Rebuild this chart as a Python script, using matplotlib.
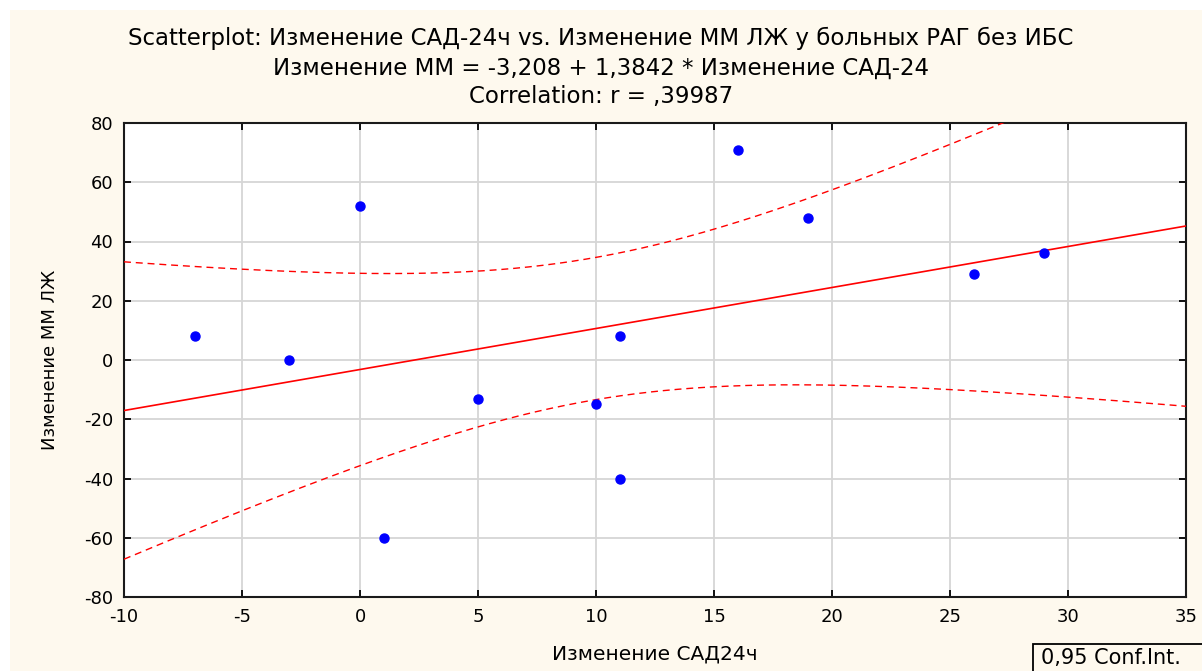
import numpy as np
import matplotlib
matplotlib.use("Agg")
import matplotlib.pyplot as plt
from matplotlib.patches import Rectangle

# change of 24h systolic BP vs change of LV mass, patients with hypertension without CHD
sad_change = [-7, -3, 0, 1, 5, 10, 11, 11, 16, 19, 26, 29]
mm_change = [8, 0, 52, -60, -13, -15, 8, -40, 71, 48, 29, 36]

intercept = -3.208
slope = 1.3842
r_value = ",39987"
t_crit = 2.228  # Student t, 0.975, df = n - 2 = 10

x_ticks = [-10, -5, 0, 5, 10, 15, 20, 25, 30, 35]
y_ticks = [-80, -60, -40, -20, 0, 20, 40, 60, 80]

cream = "#FEF9EE"
plt.rcParams["font.family"] = ["DejaVu Sans"]
plt.rcParams["axes.unicode_minus"] = False

W, H = 1202, 671
fig = plt.figure(figsize=(W / 100, H / 100), dpi=100, facecolor="white")
fig.patches.append(Rectangle((10 / W, 0), 1, 1 - 10 / H, transform=fig.transFigure,
                             facecolor=cream, edgecolor="none", zorder=-10))

ax = fig.add_axes([124 / W, 74 / H, 1062 / W, 474 / H])
ax.set_facecolor("white")

x = np.array(sad_change, dtype=float)
y = np.array(mm_change, dtype=float)
n = len(x)

# regression line and 95% confidence band of the mean
xs = np.linspace(-10, 35, 300)
ys = intercept + slope * xs
resid = y - (intercept + slope * x)
s = np.sqrt(np.sum(resid ** 2) / (n - 2))
sxx = np.sum((x - x.mean()) ** 2)
half = t_crit * s * np.sqrt(1.0 / n + (xs - x.mean()) ** 2 / sxx)

ax.plot(xs, ys, color="red", lw=1.2, zorder=3)
ax.plot(xs, ys + half, color="red", lw=1.0, ls=(0, (5, 3.5)), zorder=3)
ax.plot(xs, ys - half, color="red", lw=1.0, ls=(0, (5, 3.5)), zorder=3)

ax.plot(x, y, "o", color="#0000FF", markersize=6.5, zorder=4)

ax.set_xlim(-10, 35)
ax.set_ylim(-80, 80)
ax.set_xticks(x_ticks)
ax.set_yticks(y_ticks)
ax.grid(True, color="#D6D6D6", lw=1.3)
ax.set_axisbelow(True)
ax.tick_params(direction="in", length=5, width=1.3, top=True, right=True,
               labelsize=13, pad=8, colors="black")
for sp in ax.spines.values():
    sp.set_linewidth(1.5)
    sp.set_color("#1a1a1a")

ax.set_xlabel("Изменение САД24ч", fontsize=14.5, labelpad=13)
ax.set_ylabel("Изменение ММ ЛЖ", fontsize=13, labelpad=18)

title_kw = dict(ha="center", va="center", fontsize=16.5)
fig.text(0.5, 1 - 38 / H, "Scatterplot: Изменение САД-24ч vs. Изменение ММ ЛЖ у больных РАГ без ИБС", **title_kw)
fig.text(0.5, 1 - 68 / H, "Изменение ММ = -3,208 + 1,3842 * Изменение САД-24", **title_kw)
fig.text(0.5, 1 - 97 / H, "Correlation: r = " + r_value, **title_kw)

# legend box in the corner, running off the right edge
fig.patches.append(Rectangle((1033 / W, -0.01), 200 / W, (27 / H) + 0.01, transform=fig.transFigure,
                             facecolor=cream, edgecolor="black", lw=1.3, zorder=5))
fig.text(1041 / W, 1 - 658 / H, "0,95 Conf.Int.", ha="left", va="center", fontsize=15, zorder=6)

fig.savefig("out.png", dpi=100, facecolor=fig.get_facecolor())
